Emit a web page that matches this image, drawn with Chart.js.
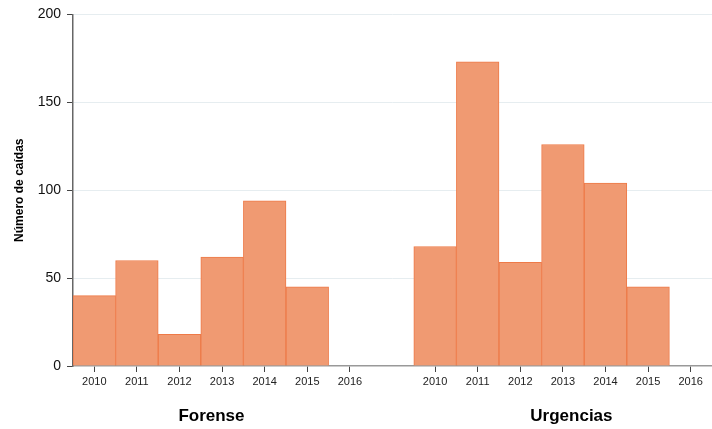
<!DOCTYPE html>
<html>
<head>
<meta charset="utf-8">
<script src="https://cdn.jsdelivr.net/npm/chart.js@4"></script>
<style>
  html, body { margin: 0; padding: 0; background: #fff; }
  #wrap { width: 712px; height: 429px; }
</style>
</head>
<body>
<div id="wrap"><canvas id="chart"></canvas></div>
<script>
const years = ['2010', '2011', '2012', '2013', '2014', '2015', '2016'];
const forense = [40, 60, 18, 62, 94, 45, 0];
const urgencias = [68, 173, 59, 126, 104, 45, 0];
const groups = ['Forense', 'Urgencias'];
const yTicks = [0, 50, 100, 150, 200];

// one empty slot between the two groups
const labels = [...years, '', ...years];
const values = [...forense, null, ...urgencias];

const fillColor = '#F09A72';
const edgeColor = '#EE7A48';
const font = 'Arial, "Liberation Sans", sans-serif';

const groupLabels = {
  id: 'groupLabels',
  afterDraw(chart) {
    const ctx = chart.ctx;
    const x = chart.scales.x;
    ctx.save();
    ctx.font = 'bold 17px ' + font;
    ctx.fillStyle = '#000';
    ctx.textAlign = 'center';
    ctx.textBaseline = 'middle';
    ctx.fillText(groups[0], x.getPixelForValue(2.75), 416);
    ctx.fillText(groups[1], x.getPixelForValue(11.2), 416);
    ctx.restore();
  }
};

new Chart(document.getElementById('chart'), {
  type: 'bar',
  data: {
    labels: labels,
    datasets: [{
      data: values,
      backgroundColor: fillColor,
      borderColor: edgeColor,
      borderWidth: 1,
      barPercentage: 1,
      categoryPercentage: 1
    }]
  },
  options: {
    responsive: true,
    maintainAspectRatio: false,
    animation: false,
    layout: { padding: { top: 14, right: 0, left: 0, bottom: 0 } },
    plugins: {
      legend: { display: false },
      tooltip: { enabled: false }
    },
    scales: {
      x: {
        grid: {
          offset: false,
          drawOnChartArea: false,
          tickLength: 6,
          color: ctx => labels[ctx.index] === '' ? 'rgba(0,0,0,0)' : '#444'
        },
        border: { color: '#999', width: 1.5 },
        ticks: {
          color: '#222',
          font: { size: 11, family: font },
          maxRotation: 0,
          autoSkip: false,
          padding: 3
        },
        afterFit: s => { s.height = 63; }
      },
      y: {
        min: 0,
        max: 200,
        afterBuildTicks: s => { s.ticks = yTicks.map(v => ({ value: v })); },
        grid: {
          color: ctx => ctx.tick && ctx.tick.value === 0 ? 'rgba(0,0,0,0)' : '#E6EDF0',
          tickColor: '#444',
          tickLength: 6
        },
        border: { color: '#666', width: 1.5 },
        ticks: {
          color: '#111',
          font: { size: 14, family: font },
          padding: 6
        },
        title: {
          display: true,
          text: 'Número de caídas',
          color: '#000',
          font: { size: 12, weight: 'bold', family: font },
          padding: { top: 12, bottom: 6 }
        },
        afterFit: s => { s.width = 73; }
      }
    }
  },
  plugins: [groupLabels]
});
</script>
</body>
</html>
